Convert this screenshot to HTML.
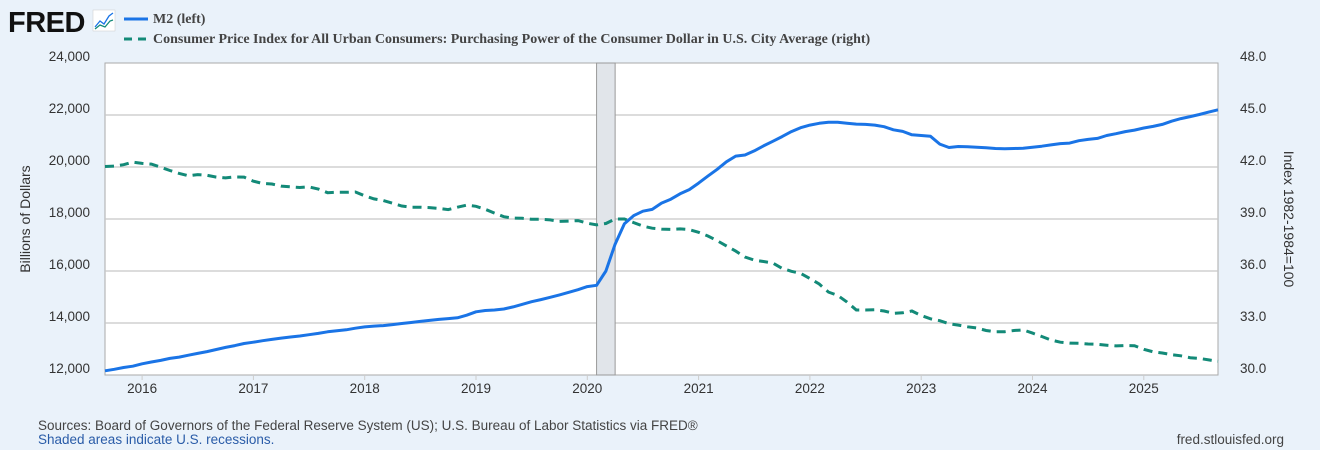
<!DOCTYPE html>
<html><head><meta charset="utf-8"><style>
body{margin:0;background:#eaf2fa;width:1320px;height:450px;overflow:hidden;font-family:"Liberation Sans",sans-serif}
</style></head><body>
<svg id="chart" width="1320" height="450" xmlns="http://www.w3.org/2000/svg" style="position:absolute;left:0;top:0">
<rect width="1320" height="450" fill="#eaf2fa"/>
<text x="8" y="32" font-family="Liberation Sans" font-weight="bold" font-size="29" fill="#111" letter-spacing="-0.5">FRED</text>
<g><rect x="93" y="10" width="22" height="21" fill="#fff" stroke="#ccc" stroke-width="0.5"/><polyline points="95,27 100,21 104,24 109,16 113,13" fill="none" stroke="#1a74e6" stroke-width="1.3"/><polyline points="95,29 100,25 105,27 110,21 113,20" fill="none" stroke="#138a78" stroke-width="1.3"/></g>
<g><line x1="124" y1="19" x2="148" y2="19" stroke="#1a74e6" stroke-width="3"/><text x="153" y="23" font-family="Liberation Serif" font-weight="bold" font-size="14" fill="#444">M2 (left)</text></g>
<g><line x1="124" y1="39" x2="148" y2="39" stroke="#138a78" stroke-width="3" stroke-dasharray="8,6"/><text x="153" y="43" font-family="Liberation Serif" font-weight="bold" font-size="14" fill="#444">Consumer Price Index for All Urban Consumers: Purchasing Power of the Consumer Dollar in U.S. City Average (right)</text></g>
<rect x="105" y="63" width="1113" height="312" fill="#fff" stroke="#aaa" stroke-width="1"/>
<g id="grid"></g><g id="rec"></g><g id="xticks"></g><g id="yl"></g><g id="yr"></g><g id="series"></g>
<text transform="translate(30,219) rotate(-90)" text-anchor="middle" font-size="14" fill="#333">Billions of Dollars</text>
<text transform="translate(1284,219) rotate(90)" text-anchor="middle" font-size="14" fill="#333">Index 1982-1984=100</text>
<text x="38" y="430" font-size="13.5" fill="#444">Sources: Board of Governors of the Federal Reserve System (US); U.S. Bureau of Labor Statistics via FRED®</text>
<text x="38" y="444" font-size="13.5" fill="#2a5ca8">Shaded areas indicate U.S. recessions.</text>
<text x="1284" y="444" text-anchor="end" font-size="13.5" fill="#444">fred.stlouisfed.org</text>
</svg>
<script>
const startYear = 2015, startMonth = 9;
const m2 = [12160,12220,12290,12340,
12430,12500,12560,12640,12690,12760,12830,12900,12980,13060,13130,13210,
13260,13320,13370,13420,13460,13500,13550,13600,13660,13700,13740,13800,
13850,13880,13900,13940,13980,14020,14060,14100,14140,14170,14200,14300,
14430,14480,14500,14540,14620,14720,14820,14900,14990,15080,15180,15280,
15400,15450,16000,17030,17820,18130,18300,18370,18610,18760,18970,19130,
19380,19650,19910,20200,20420,20460,20620,20810,20990,21170,21360,21510,
21610,21680,21720,21720,21680,21650,21640,21610,21550,21430,21370,21240,
21210,21180,20880,20750,20790,20780,20760,20740,20710,20700,20710,20720,
20760,20800,20850,20900,20920,21010,21060,21100,21210,21280,21360,21420,
21500,21560,21640,21760,21860,21940,22020,22110,22200];
const cpiPower = [42.03,42.05,42.13,42.28,
42.21,42.17,41.99,41.80,41.63,41.49,41.56,41.52,41.42,41.37,41.43,41.42,
41.18,41.05,41.02,40.90,40.86,40.82,40.85,40.73,40.52,40.54,40.54,40.56,
40.34,40.16,40.07,39.91,39.75,39.68,39.68,39.66,39.61,39.54,39.68,39.80,
39.73,39.56,39.34,39.13,39.05,39.04,38.98,38.98,38.95,38.86,38.88,38.91,
38.76,38.66,38.74,39.00,39.00,38.79,38.59,38.47,38.42,38.40,38.43,38.39,
38.23,38.02,37.75,37.45,37.15,36.81,36.63,36.55,36.46,36.15,35.98,35.87,
35.57,35.25,34.78,34.59,34.21,33.75,33.75,33.76,33.69,33.56,33.59,33.69,
33.43,33.24,33.13,32.96,32.88,32.78,32.71,32.57,32.49,32.50,32.57,32.60,
32.42,32.22,32.02,31.89,31.84,31.83,31.79,31.77,31.72,31.68,31.70,31.69,
31.48,31.34,31.27,31.17,31.11,31.00,30.96,30.87,30.79];
const leftTicks = [12000,14000,16000,18000,20000,22000,24000];
const leftLabels = ["12,000","14,000","16,000","18,000","20,000","22,000","24,000"];
const rightLabels = ["30.0","33.0","36.0","39.0","42.0","45.0","48.0"];
const yearLabels = [2016,2017,2018,2019,2020,2021,2022,2023,2024,2025];
const recession = [2020+1/12, 2020+3/12];

const NS="http://www.w3.org/2000/svg";
const X0=105,X1=1218,Y0=63,Y1=375;
const tStart=startYear+(startMonth-1)/12, tEnd=tStart+(m2.length-1)/12;
const x=t=>X0+(t-tStart)/(tEnd-tStart)*(X1-X0);
const yL=v=>Y1-(v-12000)/12000*(Y1-Y0);
const yR=v=>Y1-(v-30)/18*(Y1-Y0);
function mk(tag,attrs,parent,txt){const e=document.createElementNS(NS,tag);for(const k in attrs)e.setAttribute(k,attrs[k]);if(txt!==undefined)e.textContent=txt;document.getElementById(parent).appendChild(e);return e;}

leftTicks.forEach((v,i)=>{
  const y=yL(v);
  if(i>0&&i<leftTicks.length-1){const g=mk('line',{x1:X0,x2:X1,y1:y,y2:y,stroke:'#c8c8c8','stroke-width':1.3},'grid');
  
  }
  const a=mk('text',{x:90,y:y-2,'text-anchor':'end','font-size':13.5,fill:'#333'},'yl',leftLabels[i]);
  
  
  const b=mk('text',{x:1240,y:y-2,'text-anchor':'start','font-size':13.5,fill:'#333'},'yr',rightLabels[i]);
  
  
});
const r=mk('rect',{x:x(recession[0]),y:Y0,width:x(recession[1])-x(recession[0]),height:Y1-Y0,fill:'#e1e5ea',stroke:'#999','stroke-width':1},'rec');


yearLabels.forEach(yr=>{
  const xx=x(yr);
  const t=mk('line',{x1:xx,x2:xx,y1:Y1,y2:Y1+5,stroke:'#ccc'},'xticks');
  
  
  const l=mk('text',{x:xx,y:393,'text-anchor':'middle','font-size':13.5,fill:'#333'},'xticks',String(yr));
  
  
});
const p1=mk('polyline',{points:cpiPower.map((v,i)=>x(tStart+i/12).toFixed(1)+','+yR(v).toFixed(1)).join(' '),fill:'none',stroke:'#138a78','stroke-width':3,'stroke-dasharray':'9,6'},'series');


const p2=mk('polyline',{points:m2.map((v,i)=>x(tStart+i/12).toFixed(1)+','+yL(v).toFixed(1)).join(' '),fill:'none',stroke:'#1a74e6','stroke-width':3,'stroke-linejoin':'round'},'series');


</script>
</body></html>
